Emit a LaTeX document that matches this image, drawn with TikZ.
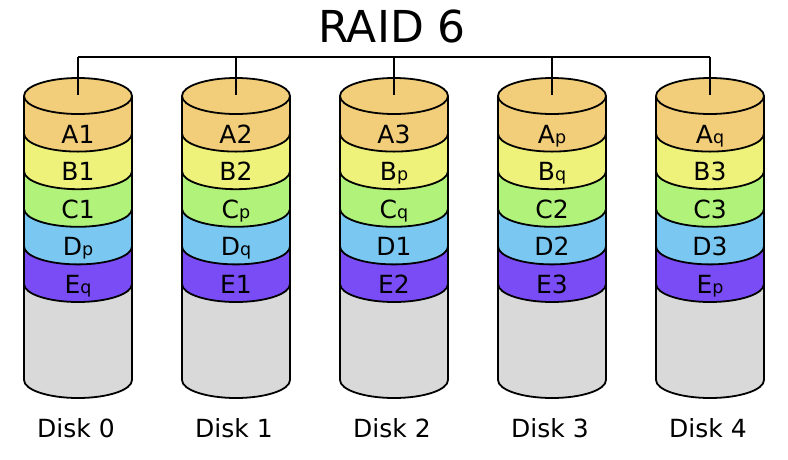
\documentclass[tikz,border=0pt]{standalone}
\usepackage{fontspec}
\setmainfont{DejaVu Sans}
\definecolor{cA}{RGB}{243,206,122}
\definecolor{cB}{RGB}{238,242,122}
\definecolor{cC}{RGB}{176,242,122}
\definecolor{cD}{RGB}{122,200,242}
\definecolor{cE}{RGB}{122,76,246}
\definecolor{cG}{RGB}{217,217,217}
\newcommand{\sbs}[1]{{\fontsize{17.5}{20}\selectfont #1}}
\tikzset{
  lbl/.style={font=\fontsize{25}{30}\selectfont, anchor=base, inner sep=0pt},
  ttl/.style={font=\fontsize{44}{50}\selectfont, anchor=base, inner sep=0pt},
}
\begin{document}
\begin{tikzpicture}[x=1pt,y=-1pt,line width=1.8pt]
\useasboundingbox (0,0) rectangle (788,459);
\node[ttl] (title) at (392,42) {RAID 6};
\foreach \i/\cx/\la/\lb/\lc/\ld/\le in {
  0/78/A1/B1/C1/D\sbs{p}/E\sbs{q},
  1/236/A2/B2/C\sbs{p}/D\sbs{q}/E1,
  2/394/A3/B\sbs{p}/C\sbs{q}/D1/E2,
  3/552/A\sbs{p}/B\sbs{q}/C2/D2/E3,
  4/710/A\sbs{q}/B3/C3/D3/E\sbs{p}}{
  \begin{scope}[shift={(\cx,0)}]
    \fill[cG] (-54,284) -- (-54,380) arc[start angle=180,end angle=0,x radius=54,y radius=18] -- (54,284) -- cycle;
    \draw (-54,284) -- (-54,380) arc[start angle=180,end angle=0,x radius=54,y radius=18] -- (54,284);
    \foreach \k/\col in {4/cE,3/cD,2/cC,1/cB,0/cA}{
      \pgfmathsetmacro\yt{96+37.6*\k}
      \pgfmathsetmacro\yb{\yt+37.6}
      \fill[\col] (-54,\yt) -- (-54,\yb) arc[start angle=180,end angle=0,x radius=54,y radius=18] -- (54,\yt) -- cycle;
      \draw (-54,\yt) -- (-54,\yb) arc[start angle=180,end angle=0,x radius=54,y radius=18] -- (54,\yt);
    }
    \filldraw[fill=cA] (0,96) ellipse[x radius=54,y radius=18];
    \coordinate (top\i) at (0,95);
    \coordinate (bus\i) at (0,57);
    \node[lbl] (a\i) at (0,143) {\la};
    \node[lbl] (b\i) at (0,180.6) {\lb};
    \node[lbl] (c\i) at (0,218.2) {\lc};
    \node[lbl] (d\i) at (0,255.8) {\ld};
    \node[lbl] (e\i) at (0,293.4) {\le};
    \node[lbl] (disk\i) at (-2,437) {Disk \i};
  \end{scope}
  \draw[line width=1.6pt] (bus\i) -- (top\i);
}
\draw[line width=1.6pt] (bus0) -- (bus4);
\end{tikzpicture}
\end{document}
